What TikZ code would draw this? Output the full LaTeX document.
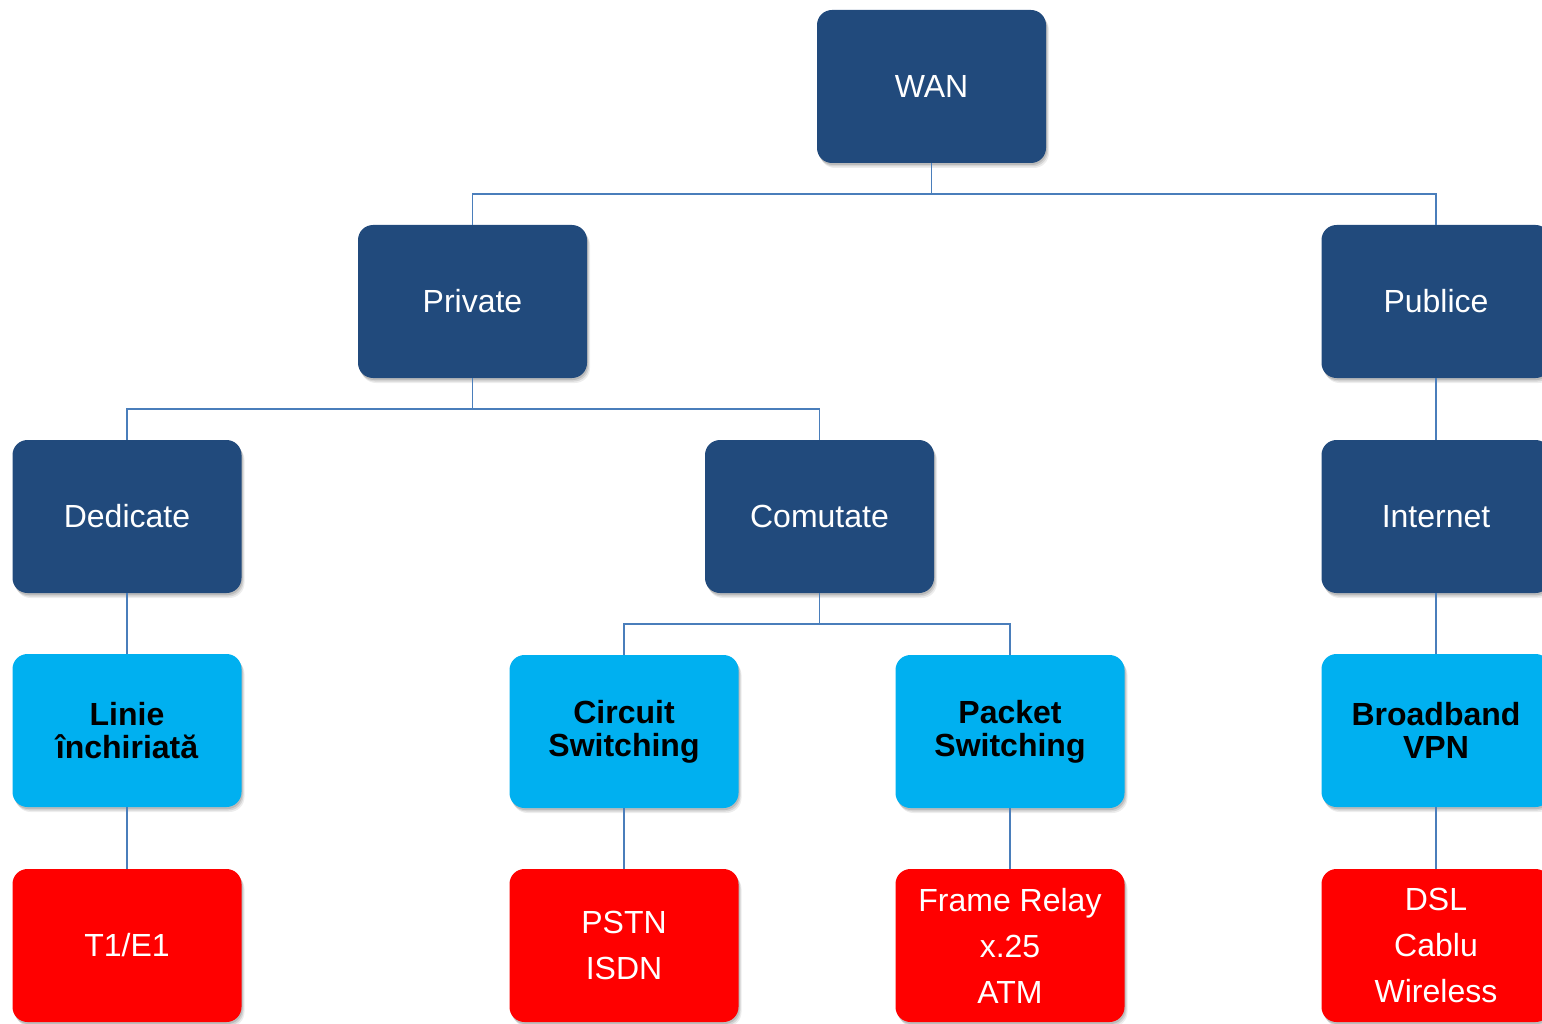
\documentclass[tikz,border=0pt]{standalone}
\usepackage{fontspec}
\setmainfont{Liberation Sans}
\usetikzlibrary{shadows}
\definecolor{navy}{HTML}{214A7C}
\definecolor{sky}{HTML}{00B0F0}
\definecolor{alert}{HTML}{FF0000}
\definecolor{wire}{HTML}{4A7EBB}
\tikzset{
  % soft shadow built from a few stacked translucent copies
  softshadow/.style={
    general shadow={shadow xshift=1pt, shadow yshift=-2pt, opacity=0.12, fill=black},
    general shadow={shadow xshift=2pt, shadow yshift=-3.5pt, opacity=0.10, fill=black},
    general shadow={shadow xshift=3pt, shadow yshift=-5pt, opacity=0.07, fill=black}},
  box/.style={rounded corners=15pt, minimum width=229pt, minimum height=153pt,
    inner sep=0pt, align=center, softshadow},
  topbox/.style={box, fill=navy, text=white, font=\fontsize{32}{38}\selectfont},
  midbox/.style={box, fill=sky, text=black, font=\fontsize{32}{33}\selectfont\bfseries},
  leafbox/.style={box, fill=alert, text=white, font=\fontsize{32}{46}\selectfont},
  link/.style={draw=wire, line width=1.5pt}
}
\begin{document}
\begin{tikzpicture}[x=1pt,y=-1pt]
  \useasboundingbox (0,0) rectangle (1542,1024);
  \clip (0,0) rectangle (1542,1024);
  % junction points of the connector buses
  \coordinate (b1) at (931.5,194);
  \coordinate (b2) at (472.5,409);
  \coordinate (b3) at (819.5,624);
  \node[topbox] (wan) at (931.5,86.5) {WAN};
  \node[topbox] (priv) at (472.5,301.5) {Private};
  \node[topbox] (pub) at (1436,301.5) {Publice};
  \node[topbox] (ded) at (127,516.5) {Dedicate};
  \node[topbox] (com) at (819.5,516.5) {Comutate};
  \node[topbox] (inet) at (1436,516.5) {Internet};
  \node[midbox] (lin) at (127,730.5) {Linie\\închiriată};
  \node[midbox] (circ) at (624,731.5) {Circuit\\Switching};
  \node[midbox] (pack) at (1010,731.5) {Packet\\Switching};
  \node[midbox] (broad) at (1436,730.5) {Broadband\\VPN};
  \node[leafbox] (t1) at (127,945.5) {T1/E1};
  \node[leafbox] (pstn) at (624,945.5) {PSTN\\ISDN};
  \node[leafbox] (fr) at (1010,945.5) {Frame Relay\\x.25\\ATM};
  \node[leafbox] (dsl) at (1436,945.5) {DSL\\Cablu\\Wireless};
  \begin{scope}[link]
    \draw (wan.south) -- (b1) -| (priv.north);
    \draw (b1) -| (pub.north);
    \draw (priv.south) -- (b2) -| (ded.north);
    \draw (b2) -| (com.north);
    \draw (com.south) -- (b3) -| (circ.north);
    \draw (b3) -| (pack.north);
    \draw (pub.south) -- (inet.north);
    \draw (ded.south) -- (lin.north);
    \draw (inet.south) -- (broad.north);
    \draw (lin.south) -- (t1.north);
    \draw (circ.south) -- (pstn.north);
    \draw (pack.south) -- (fr.north);
    \draw (broad.south) -- (dsl.north);
  \end{scope}
\end{tikzpicture}
\end{document}
